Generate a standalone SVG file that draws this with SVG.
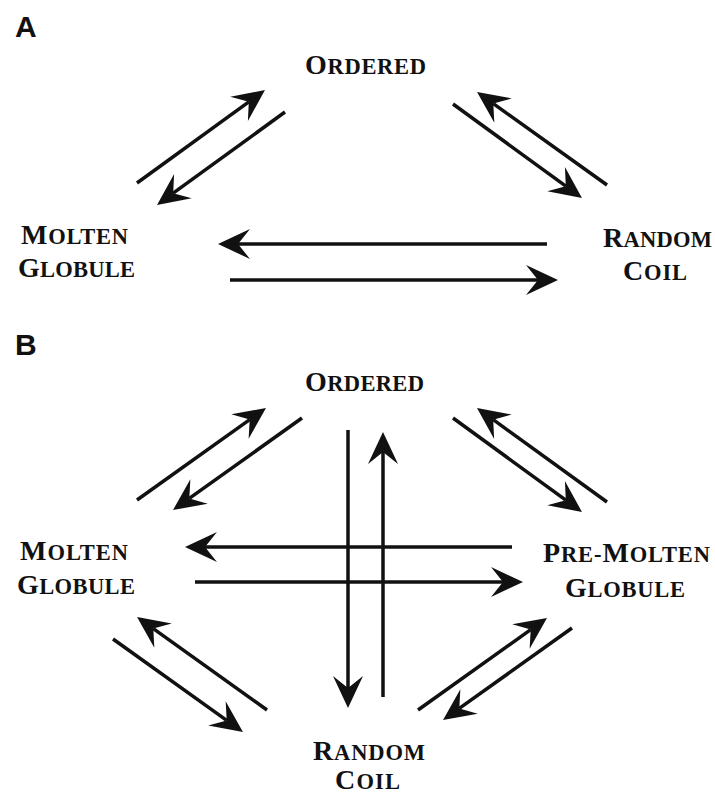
<svg xmlns="http://www.w3.org/2000/svg" width="715" height="796" viewBox="0 0 715 796">
<defs>
<style>
.lbl{font-family:"Liberation Serif","Times New Roman",serif;font-weight:bold;fill:#111;}
.big{font-size:28px;}
.sm{font-size:22.5px;}
.pl{font-family:"Liberation Sans",Arial,sans-serif;font-weight:bold;font-size:30px;fill:#111;}
.ar{stroke:#111;stroke-width:3.5;fill:none;marker-end:url(#ah);}
</style>
<marker id="ah" markerUnits="userSpaceOnUse" viewBox="-33 -17 35 34" markerWidth="35" markerHeight="34" refX="-20" refY="0" orient="auto">
<path d="M0,0 L-32,-15 L-20,0 L-32,15 Z" fill="#111"/>
</marker>
</defs>
<rect width="715" height="796" fill="#fff"/>

<g id="panelA-label"><text class="pl" x="15" y="37">A</text></g>
<g id="panelB-label"><text class="pl" x="15" y="355">B</text></g>

<g id="A-ordered"><text class="lbl" x="305" y="74" textLength="121" lengthAdjust="spacing"><tspan class="big">O</tspan><tspan class="sm">RDERED</tspan></text></g>
<g id="A-molten"><text class="lbl" x="21" y="244" textLength="107" lengthAdjust="spacing"><tspan class="big">M</tspan><tspan class="sm">OLTEN</tspan></text>
<text class="lbl" x="18" y="277" textLength="117" lengthAdjust="spacing"><tspan class="big">G</tspan><tspan class="sm">LOBULE</tspan></text></g>
<g id="A-random"><text class="lbl" x="603" y="247" textLength="109" lengthAdjust="spacing"><tspan class="big">R</tspan><tspan class="sm">ANDOM</tspan></text>
<text class="lbl" x="623" y="280" textLength="64" lengthAdjust="spacing"><tspan class="big">C</tspan><tspan class="sm">OIL</tspan></text></g>

<g id="B-ordered"><text class="lbl" x="305" y="391" textLength="119" lengthAdjust="spacing"><tspan class="big">O</tspan><tspan class="sm">RDERED</tspan></text></g>
<g id="B-molten"><text class="lbl" x="20" y="560" textLength="108" lengthAdjust="spacing"><tspan class="big">M</tspan><tspan class="sm">OLTEN</tspan></text>
<text class="lbl" x="17" y="594" textLength="118" lengthAdjust="spacing"><tspan class="big">G</tspan><tspan class="sm">LOBULE</tspan></text></g>
<g id="B-premolten"><text class="lbl" x="543" y="562" textLength="167" lengthAdjust="spacing"><tspan class="big">P</tspan><tspan class="sm">RE-</tspan><tspan class="big">M</tspan><tspan class="sm">OLTEN</tspan></text>
<text class="lbl" x="565" y="597" textLength="120" lengthAdjust="spacing"><tspan class="big">G</tspan><tspan class="sm">LOBULE</tspan></text></g>
<g id="B-random"><text class="lbl" x="313" y="760" textLength="112" lengthAdjust="spacing"><tspan class="big">R</tspan><tspan class="sm">ANDOM</tspan></text>
<text class="lbl" x="335" y="789" textLength="65" lengthAdjust="spacing"><tspan class="big">C</tspan><tspan class="sm">OIL</tspan></text></g>

<g id="connectors">
<line class="ar" x1="137" y1="183" x2="248.8" y2="101.8"/>
<line class="ar" x1="285" y1="112" x2="173.2" y2="193.2"/>
<line class="ar" x1="607" y1="185" x2="493.3" y2="103.6"/>
<line class="ar" x1="453" y1="104" x2="565.8" y2="186.2"/>
<line class="ar" x1="547" y1="244" x2="238" y2="244"/>
<line class="ar" x1="230" y1="280" x2="538" y2="280"/>

<line class="ar" x1="137" y1="500" x2="249.7" y2="419.6"/>
<line class="ar" x1="302" y1="418" x2="189.3" y2="498.4"/>
<line class="ar" x1="607" y1="502" x2="493.2" y2="419.7"/>
<line class="ar" x1="453" y1="418" x2="565.8" y2="500.2"/>
<line class="ar" x1="348" y1="430" x2="348" y2="688"/>
<line class="ar" x1="383" y1="697" x2="383" y2="452"/>
<line class="ar" x1="512" y1="547" x2="205" y2="547"/>
<line class="ar" x1="195" y1="582" x2="503" y2="582"/>
<line class="ar" x1="267" y1="710" x2="153.3" y2="628.6"/>
<line class="ar" x1="113" y1="639" x2="226.7" y2="720.4"/>
<line class="ar" x1="418" y1="710" x2="530.7" y2="629.6"/>
<line class="ar" x1="572" y1="628" x2="459.3" y2="708.4"/>
</g>
</svg>
